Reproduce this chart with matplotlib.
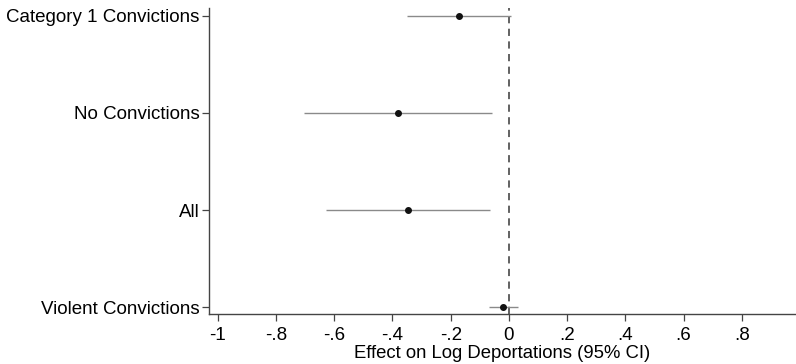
import matplotlib
matplotlib.use("Agg")
import matplotlib.pyplot as plt

# ── Data ─────────────────────────────────────────────
labels    = ["Category 1 Convictions", "No Convictions", "All", "Violent Convictions"]
positions = [4, 3, 2, 1]
estimates = [-0.172, -0.381, -0.347, -0.020]
ci_low    = [-0.350, -0.704, -0.628, -0.068]
ci_high   = [0.007, -0.059, -0.065, 0.030]

x_ticks       = [-1, -0.8, -0.6, -0.4, -0.2, 0, 0.2, 0.4, 0.6, 0.8]
x_tick_labels = ["-1", "-.8", "-.6", "-.4", "-.2", "0", ".2", ".4", ".6", ".8"]

plt.rcParams["font.family"] = ["Liberation Sans", "DejaVu Sans"]

fig = plt.figure(figsize=(7.96, 3.64), dpi=100, facecolor="white")
ax = fig.add_axes([0.2626, 0.137, 0.7374, 0.841])

ax.axvline(0, color="#555555", linestyle=(0, (4, 3)), linewidth=1.3, zorder=1)
ax.hlines(positions, ci_low, ci_high, color="#8a8a8a", linewidth=1.0, zorder=2)
ax.scatter(estimates, positions, s=16, color="#111111", zorder=3)

ax.set_xlim(-1.03, 0.986)
ax.set_ylim(0.93, 4.08)
ax.set_xticks(x_ticks)
ax.set_xticklabels(x_tick_labels)
ax.set_yticks(positions)
ax.set_yticklabels(labels)
ax.set_xlabel("Effect on Log Deportations (95% CI)", fontsize=13.3, labelpad=1)

for side in ["top", "right"]:
    ax.spines[side].set_visible(False)
for side in ["left", "bottom"]:
    ax.spines[side].set_color("#444444")
    ax.spines[side].set_linewidth(1.0)
ax.tick_params(axis="both", direction="out", length=5, width=0.9,
               color="#444444", labelsize=13.5, pad=2)
ax.tick_params(axis="x", pad=4)

fig.savefig("out.png", dpi=100, facecolor="white")
